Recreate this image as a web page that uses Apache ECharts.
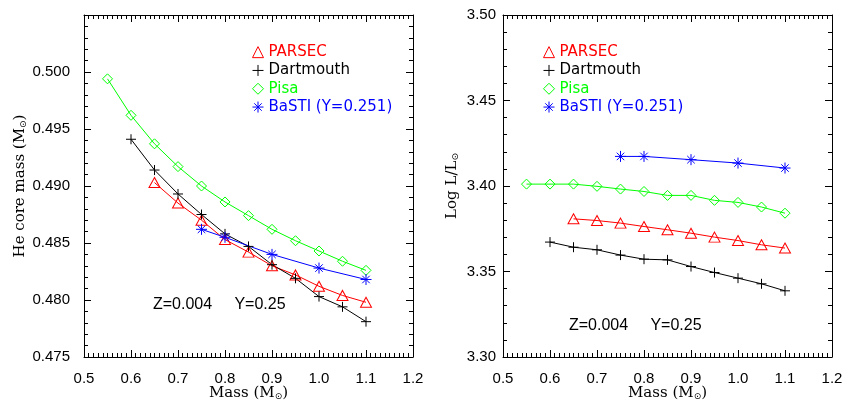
<!DOCTYPE html>
<html>
<head>
<meta charset="utf-8">
<script src="https://cdn.jsdelivr.net/npm/echarts@6/dist/echarts.min.js"></script>
<style>html,body{margin:0;padding:0;background:#fff}#c{width:843px;height:401px}</style>
</head>
<body>
<div id="c"></div>
<script>
// ---- data ----
const seriesNames = ['PARSEC', 'Dartmouth', 'Pisa', 'BaSTI (Y=0.251)'];
const parsecMass = [0.65, 0.70, 0.75, 0.80, 0.85, 0.90, 0.95, 1.00, 1.05, 1.10];
const dartMass = [0.60, 0.65, 0.70, 0.75, 0.80, 0.85, 0.90, 0.95, 1.00, 1.05, 1.10];
const pisaMass = [0.55, 0.60, 0.65, 0.70, 0.75, 0.80, 0.85, 0.90, 0.95, 1.00, 1.05, 1.10];
const bastiMass = [0.75, 0.80, 0.90, 1.00, 1.10];

const parsecCore = [0.4903, 0.4885, 0.4870, 0.4853, 0.4842, 0.4830, 0.4822, 0.4812, 0.4804, 0.4798];
const dartCore = [0.4941, 0.4914, 0.4893, 0.4875, 0.4858, 0.4847, 0.4831, 0.4819, 0.4803, 0.4794, 0.4781];
const pisaCore = [0.4994, 0.4962, 0.4937, 0.4917, 0.4900, 0.4886, 0.4874, 0.4862, 0.4852, 0.4843, 0.4834, 0.4826];
const bastiCore = [0.4862, 0.4855, 0.4840, 0.4828, 0.4818];

const parsecLogL = [3.3808, 3.3798, 3.3783, 3.3763, 3.3744, 3.3724, 3.3701, 3.3681, 3.3656, 3.3637];
const dartLogL = [3.3672, 3.3642, 3.3627, 3.3596, 3.3572, 3.3568, 3.3529, 3.3494, 3.3461, 3.3428, 3.3387];
const pisaLogL = [3.4011, 3.4011, 3.4011, 3.3998, 3.3982, 3.3968, 3.3945, 3.3945, 3.3916, 3.3904, 3.3877, 3.3841];
const bastiLogL = [3.4173, 3.4173, 3.4154, 3.4134, 3.4105];

const xTickLabels = ['0.5', '0.6', '0.7', '0.8', '0.9', '1.0', '1.1', '1.2'];
const yCoreTickLabels = ['0.475', '0.480', '0.485', '0.490', '0.495', '0.500'];
const yLumTickLabels = ['3.30', '3.35', '3.40', '3.45', '3.50'];
const annotation = 'Z=0.004     Y=0.25';

// ---- styling ----
const colors = ['#ff0000', '#000000', '#00ff00', '#0000ff'];
const PLUS = 'path://M5,0L5,10M0,5L10,5';
const STAR = 'path://M5,0L5,10M0,5L10,5M1.6,1.6L8.4,8.4M8.4,1.6L1.6,8.4';
const symbols = ['triangle', PLUS, 'diamond', STAR];
const symSizes = [[11, 10], 10, [10, 10], 11];

const tickFont = 'Liberation Sans, Arial, sans-serif';
const pair = (xs, ys) => xs.map((x, i) => [x, ys[i]]);

function axisBase(min, max, interval, minorSplit) {
  return {
    type: 'value', min: min, max: max, interval: interval,
    axisLine: { show: true, onZero: false, lineStyle: { color: '#000', width: 1 } },
    axisTick: { show: true, inside: true, length: 7, lineStyle: { color: '#000', width: 1 } },
    minorTick: { show: true, splitNumber: minorSplit, length: 4, lineStyle: { color: '#000', width: 1 } },
    splitLine: { show: false }, minorSplitLine: { show: false }
  };
}
const nameRich = {
  n: { fontFamily: 'DejaVu Serif, serif', fontSize: 15, color: '#000' },
  s: { fontFamily: 'DejaVu Sans, sans-serif', fontSize: 9, color: '#000', padding: [7, 0, 0, 0] }
};
function xMain(grid) {
  const a = axisBase(0.5, 1.2, 0.1, 10);
  a.gridIndex = grid; a.position = 'bottom';
  a.axisLabel = { margin: 14, color: '#000', fontFamily: tickFont, fontSize: 15,
    formatter: v => xTickLabels[Math.round((v - 0.5) / 0.1)] || '' };
  a.name = '{n|Mass (M}{s|⊙}{n|)}';
  a.nameLocation = 'middle'; a.nameGap = 28; a.nameMoveOverlap = false;
  a.nameTextStyle = { rich: nameRich };
  return a;
}
function xMirror(grid) {
  const a = axisBase(0.5, 1.2, 0.1, 10);
  a.gridIndex = grid; a.position = 'top'; a.axisLabel = { show: false };
  return a;
}
function yMain(grid, min, max, interval, labels, name, gap, margin) {
  const a = axisBase(min, max, interval, 5);
  a.gridIndex = grid; a.position = 'left';
  a.axisLabel = { margin: margin, color: '#000', fontFamily: tickFont, fontSize: 15,
    formatter: v => labels[Math.round((v - min) / interval)] || '' };
  a.name = name; a.nameLocation = 'middle'; a.nameGap = gap;
  a.nameTextStyle = { rich: nameRich };
  return a;
}
function yMirror(grid, min, max, interval) {
  const a = axisBase(min, max, interval, 5);
  a.gridIndex = grid; a.position = 'right'; a.axisLabel = { show: false };
  return a;
}
function mkSeries(k, xi, yi, data) {
  return {
    name: seriesNames[k], type: 'line', xAxisIndex: xi, yAxisIndex: yi, data: data,
    symbol: symbols[k], symbolSize: symSizes[k], showSymbol: true, showAllSymbol: true,
    itemStyle: { color: 'rgba(0,0,0,0)', borderColor: colors[k], borderWidth: 1 },
    lineStyle: { color: colors[k], width: 1 },
    emphasis: { disabled: true }, z: 3
  };
}
function mkLegend(left) {
  return {
    orient: 'vertical', left: left, top: 38, itemWidth: 11, itemHeight: 11, itemGap: 0,
    selectedMode: false,
    textStyle: { fontFamily: 'DejaVu Sans, sans-serif', fontSize: 15, lineHeight: 18.3 },
    data: seriesNames.map((n, k) => ({
      name: n, icon: symbols[k],
      itemStyle: { color: 'rgba(0,0,0,0)', borderColor: colors[k], borderWidth: 1 },
      textStyle: { color: colors[k] }
    }))
  };
}

const chart = echarts.init(document.getElementById('c'), null, { renderer: 'canvas' });
chart.setOption({
  animation: false,
  backgroundColor: '#fff',
  grid: [
    { left: 84, top: 15, width: 329, height: 342, containLabel: false, outerBoundsMode: 'none' },
    { left: 503, top: 15, width: 329, height: 342, containLabel: false, outerBoundsMode: 'none' }
  ],
  xAxis: [xMain(0), xMirror(0), xMain(1), xMirror(1)],
  yAxis: [
    yMain(0, 0.475, 0.505, 0.005, yCoreTickLabels, '{n|He core mass (M}{s|⊙}{n|)}', 56, 14),
    yMirror(0, 0.475, 0.505, 0.005),
    yMain(1, 3.30, 3.50, 0.05, yLumTickLabels, '{n|Log L/L}{s|⊙}', 43, 7),
    yMirror(1, 3.30, 3.50, 0.05)
  ],
  legend: [mkLegend(247), mkLegend(538)],
  series: [
    mkSeries(0, 0, 0, pair(parsecMass, parsecCore)),
    mkSeries(1, 0, 0, pair(dartMass, dartCore)),
    mkSeries(2, 0, 0, pair(pisaMass, pisaCore)),
    mkSeries(3, 0, 0, pair(bastiMass, bastiCore)),
    mkSeries(0, 2, 2, pair(parsecMass, parsecLogL)),
    mkSeries(1, 2, 2, pair(dartMass, dartLogL)),
    mkSeries(2, 2, 2, pair(pisaMass, pisaLogL)),
    mkSeries(3, 2, 2, pair(bastiMass, bastiLogL))
  ],
  graphic: [
    { type: 'text', left: 153, top: 297, style: { text: annotation, fill: '#000', font: '16px "Liberation Sans", Arial, sans-serif' } },
    { type: 'text', left: 569, top: 318, style: { text: annotation, fill: '#000', font: '16px "Liberation Sans", Arial, sans-serif' } }
  ]
});
</script>
</body>
</html>
